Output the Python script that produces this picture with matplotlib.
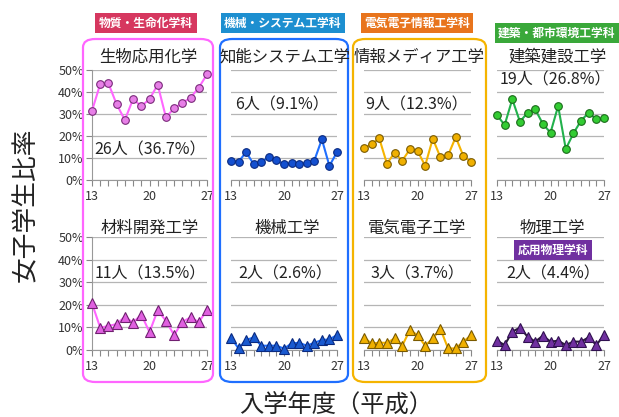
import matplotlib.pyplot as plt
from matplotlib.patches import FancyBboxPatch

plt.rcParams['font.family'] = ['Noto Sans CJK JP', 'DejaVu Sans']

W, H = 619, 417

years = list(range(13, 28))

# female student ratio (%) by entrance year (Heisei)
seibutsu = [31.5, 43.6, 43.9, 34.4, 27.3, 36.8, 33.5, 36.8, 43.3, 28.5, 32.6, 35.0, 37.4, 42.0, 48.0]
chinou = [8.6, 8.3, 12.7, 7.1, 8.3, 10.3, 8.9, 7.1, 7.6, 7.4, 7.6, 8.8, 18.5, 6.4, 12.7]
jouhou = [14.4, 16.4, 18.9, 7.4, 12.4, 8.8, 13.9, 13.3, 6.5, 18.8, 10.3, 11.2, 19.5, 10.9, 8.2]
kenchiku = [29.5, 25.0, 36.7, 26.5, 30.6, 32.1, 25.5, 21.5, 33.6, 14.1, 21.2, 27.0, 30.6, 27.6, 28.0]
zairyou = [20.6, 9.9, 10.6, 11.5, 14.7, 12.1, 15.7, 7.9, 17.6, 12.9, 6.6, 12.5, 14.4, 12.4, 17.6]
kikai = [5.4, 0.7, 4.4, 5.6, 1.9, 1.9, 1.9, 0.6, 2.9, 3.2, 1.9, 3.2, 4.4, 4.7, 6.6]
denki = [5.4, 2.9, 3.2, 3.2, 5.1, 1.9, 8.8, 6.6, 1.9, 5.1, 9.3, 0.7, 0.7, 3.7, 6.5]
butsuri = [4.1, 2.2, 8.1, 9.9, 5.9, 3.7, 6.3, 3.7, 4.1, 2.2, 3.7, 3.7, 5.6, 2.2, 6.6]

titles = ['生物応用化学', '知能システム工学', '情報メディア工学', '建築建設工学',
          '材料開発工学', '機械工学', '電気電子工学', '物理工学']
counts = ['26人（36.7%）', '6人（9.1%）', '9人（12.3%）', '19人（26.8%）',
          '11人（13.5%）', '2人（2.6%）', '3人（3.7%）', '2人（4.4%）']
depts = ['物質・生命化学科', '機械・システム工学科', '電気電子情報工学科', '建築・都市環境工学科']

series = [seibutsu, chinou, jouhou, kenchiku, zairyou, kikai, denki, butsuri]
markers = ['o'] * 4 + ['^'] * 4
line_cols = ['#ff66ff', '#1f6fff', '#f5b400', '#22b14c',
             '#ff66ff', '#1f6fff', '#f5b400', '#2a1a3a']
face_cols = ['#e77fe7', '#1450d0', '#f0b000', '#33cc33',
             '#e060e0', '#1a5ad0', '#f0b000', '#7030a0']
edge_cols = ['#7a2a7a', '#0a2a80', '#7a5a00', '#1a6a1a',
             '#702070', '#0a2a80', '#7a5a00', '#301050']

col_x = [(92, 207), (231, 337), (364, 471), (497, 604)]
row_y = [(70, 180), (237, 350)]
title_x = [148, 285, 419, 558, 150, 287, 417, 552]
count_pos = [(150, 150), (282, 105), (417, 105), (555, 80),
             (150, 274), (285, 274), (417, 274), (553, 274)]

fig = plt.figure(figsize=(W / 100, H / 100), dpi=100)


def fx(x):
    return x / W


def fy(y):
    return 1 - y / H


# rounded frames around the first three departments
for (x0, x1), c in zip([(83, 213), (220, 348), (353, 486)], ['#ff66ff', '#1f6fff', '#f5b400']):
    box = FancyBboxPatch((fx(x0), fy(382)), fx(x1 - x0), (382 - 39) / H,
                         boxstyle='round,pad=0,rounding_size=0.02',
                         transform=fig.transFigure, fill=False, ec=c, lw=1.6)
    fig.patches.append(box)

for i, vals in enumerate(series):
    r, c = divmod(i, 4)
    x0, x1 = col_x[c]
    y0, y1 = row_y[r]
    ax = fig.add_axes([fx(x0), fy(y1), fx(x1 - x0), (y1 - y0) / H])
    ax.plot(years, vals, color=line_cols[i], lw=1.5, marker=markers[i],
            ms=5.5 if markers[i] == 'o' else 6.5, mfc=face_cols[i], mec=edge_cols[i],
            mew=0.8, clip_on=False, zorder=3)
    ax.set_xlim(13, 27)
    ax.set_ylim(0, 50)
    ax.set_yticks([0, 10, 20, 30, 40, 50])
    ax.grid(axis='y', color='#b5b5b5', lw=0.9)
    ax.set_axisbelow(True)
    ax.set_xticks(years)
    ax.set_xticklabels([str(y) if y in (13, 20, 27) else '' for y in years])
    ax.tick_params(axis='x', length=4, color='#888888', labelsize=9, pad=3,
                   labelcolor='#333333')
    for s in ['top', 'right']:
        ax.spines[s].set_visible(False)
    ax.spines['bottom'].set_color('#999999')
    if c == 0:
        ax.set_yticklabels([f'{v}%' for v in [0, 10, 20, 30, 40, 50]])
        ax.tick_params(axis='y', length=4, color='#888888', labelsize=9,
                       labelcolor='#333333', pad=2)
        ax.spines['left'].set_color('#999999')
    else:
        ax.tick_params(axis='y', length=0, labelleft=False)
        ax.spines['left'].set_visible(False)

    ty = 57 if r == 0 else 228
    fig.text(fx(title_x[i]), fy(ty), titles[i], ha='center', va='center',
             fontsize=11.8, color='#222222')
    cx, cy = count_pos[i]
    fig.text(fx(cx), fy(cy), counts[i], ha='center', va='center',
             fontsize=11.5, color='#222222')

# department labels
dept_pos = [(146, 23), (283, 23), (417, 23), (557, 33)]
dept_cols = ['#d6375f', '#1d8fd0', '#e8741c', '#3aa83a']
for d, (x, y), col in zip(depts, dept_pos, dept_cols):
    fig.text(fx(x), fy(y), d, ha='center', va='center', fontsize=8.5,
             color='white', fontweight='bold',
             bbox=dict(boxstyle='square,pad=0.3', fc=col, ec='none'))

fig.text(fx(553), fy(250), '応用物理学科', ha='center', va='center', fontsize=8.5,
         color='white', fontweight='bold',
         bbox=dict(boxstyle='square,pad=0.3', fc='#7030a0', ec='none'))

fig.text(fx(26), fy(205), '女子学生比率', rotation=90, ha='center', va='center',
         fontsize=18.5, color='#222222')
fig.text(fx(336), fy(405), '入学年度（平成）', ha='center', va='center',
         fontsize=17.5, color='#222222')

fig.savefig('out.png', dpi=100)
